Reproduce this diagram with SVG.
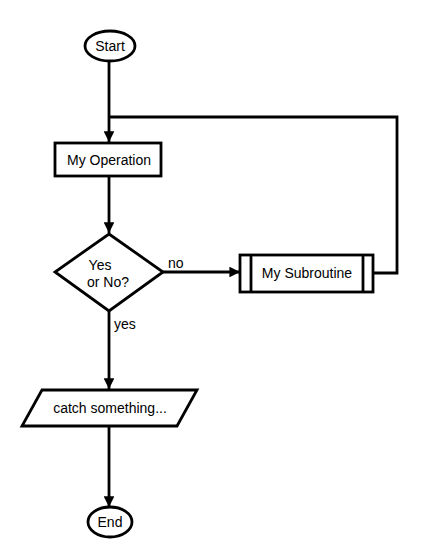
<svg xmlns="http://www.w3.org/2000/svg" width="426" height="550" viewBox="0 0 426 550">
<style>
.n{fill:#fff;stroke:#000;stroke-width:2.8}
.c{fill:none;stroke:#000;stroke-width:2.8}
text{font-family:"Liberation Sans",Arial,sans-serif;font-size:14px;fill:#000}
.m{text-anchor:middle}
</style>
<defs>
<marker id="a" viewBox="0 0 10 10" refX="10" refY="5" markerWidth="3.8" markerHeight="3.8" orient="auto" markerUnits="strokeWidth">
<path d="M0,0 L10,5 L0,10 z" fill="#000"/>
</marker>
</defs>
<g id="connectors">
<path class="c" d="M109,61 V142" marker-end="url(#a)"/>
<path class="c" d="M109,176 V233" marker-end="url(#a)"/>
<path class="c" d="M163,272 H240" marker-end="url(#a)"/>
<path class="c" d="M373,273 H397 V117 H109"/>
<path class="c" d="M109,311 V389" marker-end="url(#a)"/>
<path class="c" d="M109,426 V507" marker-end="url(#a)"/>
<text x="168" y="268">no</text>
<text x="114" y="329">yes</text>
</g>
<g id="start">
<ellipse class="n" cx="110" cy="46" rx="25" ry="15"/>
<text class="m" x="110" y="51">Start</text>
</g>
<g id="op">
<rect class="n" x="55" y="143" width="106" height="33"/>
<text class="m" x="109" y="165">My Operation</text>
</g>
<g id="decision">
<path class="n" d="M109,234 L163,272 L109,311 L55,272 z"/>
<text class="m" x="100" y="270">Yes</text>
<text class="m" x="108" y="287">or No?</text>
</g>
<g id="sub">
<rect class="n" x="240" y="255" width="133" height="37"/>
<line class="c" x1="251" y1="255" x2="251" y2="292"/>
<line class="c" x1="363" y1="255" x2="363" y2="292"/>
<text class="m" x="307" y="278">My Subroutine</text>
</g>
<g id="io">
<path class="n" d="M42,390 H197 L177,426 H22 z"/>
<text class="m" x="110" y="413">catch something...</text>
</g>
<g id="end">
<ellipse class="n" cx="110" cy="522" rx="22" ry="15"/>
<text class="m" x="110" y="527">End</text>
</g>
</svg>
